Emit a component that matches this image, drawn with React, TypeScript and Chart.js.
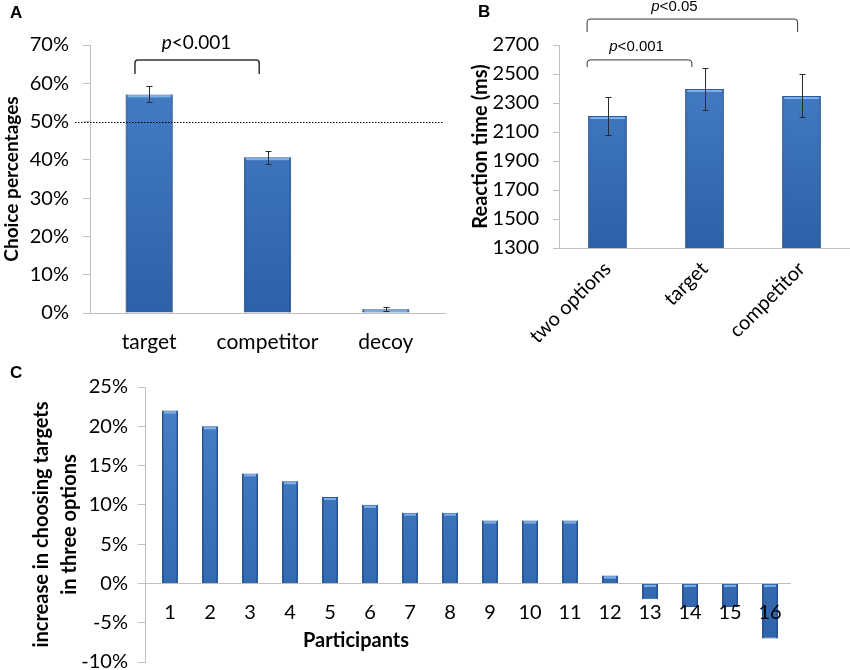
import React, { useEffect, useRef } from "react";
import { Chart, registerables } from "chart.js";

Chart.register(...registerables);

// ---------- Data ----------
const choiceCategories = ["target", "competitor", "decoy"];
const choiceValues = [57.1, 40.7, 1.0];
const choiceErrLow = [55.2, 38.8, 0.4];
const choiceErrHigh = [59.3, 42.4, 1.5];

const rtCategories = ["two options", "target", "competitor"];
const rtValues = [2210, 2397, 2348];
const rtErrLow = [2079, 2252, 2203];
const rtErrHigh = [2341, 2541, 2500];

const participants = ["1", "2", "3", "4", "5", "6", "7", "8", "9", "10", "11", "12", "13", "14", "15", "16"];
const increaseValues = [22, 20, 14, 13, 11, 10, 9, 9, 8, 8, 8, 1, -2, -3, -3, -7];

// ---------- Styling ----------
const FONT = "Lato, 'Open Sans', sans-serif";
const ARIAL = "'Liberation Sans', Arial, sans-serif";
const AXIS_GRAY = "#bfbfbf";
const TEXT = "#000000";

const barFill = (ctx: any) => {
  const chart = ctx.chart;
  const area = chart.chartArea;
  if (!area) return "#3a72bb";
  const g = chart.ctx.createLinearGradient(0, area.top, 0, area.bottom);
  g.addColorStop(0, "#4881c9");
  g.addColorStop(1, "#2d61a8");
  return g;
};

type Bracket = {
  from: number;
  to: number;
  top: number;
  leg: number;
  label: string;
  labelAt: number;
  labelY: number;
  size: number;
  family: string;
  lineWidth: number;
};

function drawPLabel(ctx: CanvasRenderingContext2D, text: string, cx: number, cy: number, size: number, family: string) {
  const first = text.slice(0, 1);
  const rest = text.slice(1);
  ctx.font = `italic ${size}px ${family}`;
  const w1 = ctx.measureText(first).width;
  ctx.font = `${size}px ${family}`;
  const w2 = ctx.measureText(rest).width;
  const x0 = cx - (w1 + w2) / 2;
  ctx.textBaseline = "middle";
  ctx.textAlign = "left";
  ctx.fillStyle = TEXT;
  ctx.font = `italic ${size}px ${family}`;
  ctx.fillText(first, x0, cy);
  ctx.font = `${size}px ${family}`;
  ctx.fillText(rest, x0 + w1, cy);
}

const makeDecorPlugin = (opts: {
  low?: number[];
  high?: number[];
  brackets?: Bracket[];
  refLine?: number;
  panel: { text: string; x: number; y: number };
  extraText?: { text: string; xVal: number; yVal: number; size: number; family: string };
}) => ({
  id: "decor",
  afterDatasetsDraw(chart: any) {
    const { ctx, scales, chartArea } = chart;
    const x = scales.x;
    const y = scales.y;
    const meta = chart.getDatasetMeta(0);
    ctx.save();
    // bar shading, clipped to the plot area
    ctx.save();
    ctx.beginPath();
    ctx.rect(chartArea.left, chartArea.top, chartArea.right - chartArea.left, chartArea.bottom - chartArea.top);
    ctx.clip();
    meta.data.forEach((bar: any) => {
      const top = Math.min(bar.y, bar.base);
      const bottom = Math.min(Math.max(bar.y, bar.base), chartArea.bottom);
      const h = bottom - top;
      if (h < 1) return;
      const w = bar.width;
      ctx.fillStyle = "rgba(150,195,245,0.75)";
      ctx.fillRect(bar.x - w / 2 + 2, top + 1, w - 4, Math.min(2, h - 1));
      ctx.fillStyle = "rgba(25,60,120,0.3)";
      ctx.fillRect(bar.x - w / 2 + 0.5, top, 1.5, h);
      ctx.fillRect(bar.x + w / 2 - 2, top, 1.5, h);
    });
    ctx.restore();
    // reference line
    if (opts.refLine !== undefined) {
      const py = Math.round(y.getPixelForValue(opts.refLine)) + 0.5;
      ctx.strokeStyle = "#000";
      ctx.lineWidth = 1;
      ctx.setLineDash([1.5, 1.5]);
      ctx.beginPath();
      ctx.moveTo(chartArea.left - 15, py);
      ctx.lineTo(chartArea.right - 2, py);
      ctx.stroke();
      ctx.setLineDash([]);
    }
    // error bars
    if (opts.low && opts.high) {
      ctx.strokeStyle = "#2b2b2b";
      ctx.lineWidth = 1;
      meta.data.forEach((bar: any, i: number) => {
        const cx = Math.round(bar.x) + 0.5;
        const yl = Math.round(y.getPixelForValue(opts.low![i])) + 0.5;
        const yh = Math.round(y.getPixelForValue(opts.high![i])) + 0.5;
        ctx.beginPath();
        ctx.moveTo(cx, yl);
        ctx.lineTo(cx, yh);
        ctx.moveTo(cx - 3, yl);
        ctx.lineTo(cx + 3, yl);
        ctx.moveTo(cx - 3, yh);
        ctx.lineTo(cx + 3, yh);
        ctx.stroke();
      });
    }
    // brackets
    (opts.brackets || []).forEach((b) => {
      const x1 = x.getPixelForValue(b.from);
      const x2 = x.getPixelForValue(b.to);
      const yt = y.getPixelForValue(b.top);
      const yl = y.getPixelForValue(b.leg);
      const r = 3;
      ctx.strokeStyle = "#333";
      ctx.lineWidth = b.lineWidth;
      ctx.beginPath();
      ctx.moveTo(x1, yl);
      ctx.lineTo(x1, yt + r);
      ctx.quadraticCurveTo(x1, yt, x1 + r, yt);
      ctx.lineTo(x2 - r, yt);
      ctx.quadraticCurveTo(x2, yt, x2, yt + r);
      ctx.lineTo(x2, yl);
      ctx.stroke();
      drawPLabel(ctx, b.label, x.getPixelForValue(b.labelAt), y.getPixelForValue(b.labelY), b.size, b.family);
    });
    // extra text
    if (opts.extraText) {
      const t = opts.extraText;
      ctx.font = `bold ${t.size}px ${t.family}`;
      ctx.fillStyle = TEXT;
      ctx.textAlign = "center";
      ctx.textBaseline = "middle";
      ctx.fillText(t.text, x.getPixelForValue(t.xVal), y.getPixelForValue(t.yVal));
    }
    // panel letter
    ctx.font = `bold 17px ${ARIAL}`;
    ctx.fillStyle = TEXT;
    ctx.textAlign = "left";
    ctx.textBaseline = "middle";
    ctx.fillText(opts.panel.text, opts.panel.x, opts.panel.y);
    ctx.restore();
  },
});

const tickFont = { family: FONT, size: 20 };
const noVPad = (s: any) => {
  s.paddingTop = 0;
  s.paddingBottom = 0;
};

export default function App() {
  const refA = useRef<HTMLCanvasElement>(null);
  const refB = useRef<HTMLCanvasElement>(null);
  const refC = useRef<HTMLCanvasElement>(null);

  useEffect(() => {
    document.body.style.margin = "0";
    const charts: Chart[] = [];

    // Panel A
    charts.push(
      new Chart(refA.current!, {
        type: "bar",
        data: {
          labels: choiceCategories,
          datasets: [
            {
              data: choiceValues,
              backgroundColor: barFill,
              borderColor: "#2a5898",
              borderWidth: 1,
              categoryPercentage: 1,
              barPercentage: 0.4,
            },
          ],
        },
        options: {
          animation: false,
          responsive: false,
          maintainAspectRatio: false,
          layout: { padding: { top: 45, right: 5, left: 0, bottom: 0 } },
          plugins: { legend: { display: false }, tooltip: { enabled: false } },
          scales: {
            x: {
              grid: { display: false, drawTicks: false },
              border: { display: true, color: AXIS_GRAY },
              ticks: { font: { family: FONT, size: 21 }, color: TEXT, padding: 17 },
              afterFit: (s: any) => {
                s.height = 47;
              },
            },
            y: {
              min: 0,
              max: 70,
              ticks: { stepSize: 10, font: tickFont, color: TEXT, padding: 14, callback: (v: any) => v + "%" },
              grid: { drawOnChartArea: false, tickLength: 7, color: AXIS_GRAY },
              border: { display: true, color: AXIS_GRAY },
              title: {
                display: true,
                text: "Choice percentages",
                font: { family: FONT, size: 19, weight: "bold" },
                color: TEXT,
                padding: { top: 0, bottom: 0 },
              },
              afterFit: (s: any) => {
                s.width = 90;
                noVPad(s);
              },
            },
          },
        },
        plugins: [
          makeDecorPlugin({
            low: choiceErrLow,
            high: choiceErrHigh,
            refLine: 50,
            brackets: [
              { from: -0.12, to: 0.93, top: 66.1, leg: 62.4, label: "p<0.001", labelAt: 0.4, labelY: 70.5, size: 19, family: FONT, lineWidth: 1.5 },
            ],
            panel: { text: "A", x: 10, y: 13 },
          }),
        ],
      } as any)
    );

    // Panel B
    charts.push(
      new Chart(refB.current!, {
        type: "bar",
        data: {
          labels: rtCategories,
          datasets: [
            {
              data: rtValues,
              backgroundColor: barFill,
              borderColor: "#2a5898",
              borderWidth: 1,
              categoryPercentage: 1,
              barPercentage: 0.4,
            },
          ],
        },
        options: {
          animation: false,
          responsive: false,
          maintainAspectRatio: false,
          layout: { padding: { top: 45, right: 0, left: 0, bottom: 0 } },
          plugins: { legend: { display: false }, tooltip: { enabled: false } },
          scales: {
            x: {
              grid: { display: false, drawTicks: false },
              border: { display: true, color: AXIS_GRAY },
              ticks: { font: tickFont, color: TEXT, padding: 9, minRotation: 45, maxRotation: 45, autoSkip: false },
              afterFit: (s: any) => {
                s.height = 112;
              },
            },
            y: {
              min: 1300,
              max: 2700,
              ticks: { stepSize: 200, font: tickFont, color: TEXT, padding: 14, callback: (v: any) => String(v) },
              grid: { drawOnChartArea: false, tickLength: 6, color: AXIS_GRAY },
              border: { display: true, color: AXIS_GRAY },
              title: {
                display: true,
                text: "Reaction time (ms)",
                font: { family: FONT, size: 20, weight: "bold" },
                color: TEXT,
                padding: { top: 9, bottom: 0 },
              },
              afterFit: (s: any) => {
                s.width = 99;
                noVPad(s);
              },
            },
          },
        },
        plugins: [
          makeDecorPlugin({
            low: rtErrLow,
            high: rtErrHigh,
            brackets: [
              { from: -0.21, to: 0.87, top: 2597, leg: 2548, label: "p<0.001", labelAt: 0.3, labelY: 2686, size: 15, family: ARIAL, lineWidth: 1 },
              { from: -0.21, to: 1.96, top: 2879, leg: 2790, label: "p<0.05", labelAt: 0.69, labelY: 2962, size: 15, family: ARIAL, lineWidth: 1 },
            ],
            panel: { text: "B", x: 18, y: 12 },
          }),
        ],
      } as any)
    );

    // Panel C
    charts.push(
      new Chart(refC.current!, {
        type: "bar",
        data: {
          datasets: [
            {
              data: participants.map((p, i) => ({ x: Number(p), y: increaseValues[i] })),
              backgroundColor: barFill,
              borderColor: "#2a5898",
              borderWidth: 1,
              categoryPercentage: 1,
              barPercentage: 0.4,
            },
          ],
        },
        options: {
          animation: false,
          responsive: false,
          maintainAspectRatio: false,
          layout: { padding: { top: 57, right: 60, left: 0, bottom: 8 } },
          plugins: { legend: { display: false }, tooltip: { enabled: false } },
          scales: {
            x: {
              type: "linear",
              min: 0.375,
              max: 16.5,
              offset: false,
              position: { y: 0 },
              grid: { display: false, drawTicks: false },
              border: { display: true, color: AXIS_GRAY },
              afterBuildTicks: (s: any) => {
                s.ticks = participants.map((p) => ({ value: Number(p) }));
              },
              ticks: {
                font: tickFont,
                color: TEXT,
                padding: 17,
                autoSkip: false,
                maxRotation: 0,
                z: 1,
                callback: (v: any) => participants[Math.round(v) - 1] ?? "",
              },
            },
            y: {
              min: -10,
              max: 25,
              ticks: { stepSize: 5, font: tickFont, color: TEXT, padding: 10, callback: (v: any) => v + "%" },
              grid: { drawOnChartArea: false, tickLength: 7, color: AXIS_GRAY },
              border: { display: true, color: AXIS_GRAY },
              title: {
                display: true,
                text: ["increase in choosing targets", "in three options"],
                font: { family: FONT, size: 20, weight: "bold", lineHeight: 1.4 },
                color: TEXT,
                padding: { top: 28, bottom: 0 },
              },
              afterFit: (s: any) => {
                s.width = 145;
                noVPad(s);
              },
            },
          },
        },
        plugins: [
          makeDecorPlugin({
            panel: { text: "C", x: 10, y: 43 },
            extraText: { text: "Participants", xVal: 5.65, yVal: -7.3, size: 20, family: FONT },
          }),
        ],
      } as any)
    );

    return () => {
      charts.forEach((c) => c.destroy());
    };
  }, []);

  return (
    <div style={{ position: "relative", width: 850, height: 670, background: "#fff", overflow: "hidden" }}>
      <canvas ref={refA} width={450} height={360} style={{ position: "absolute", left: 0, top: 0, width: 450, height: 360 }} />
      <canvas ref={refB} width={390} height={360} style={{ position: "absolute", left: 460, top: 0, width: 390, height: 360 }} />
      <canvas ref={refC} width={850} height={340} style={{ position: "absolute", left: 0, top: 330, width: 850, height: 340 }} />
    </div>
  );
}
